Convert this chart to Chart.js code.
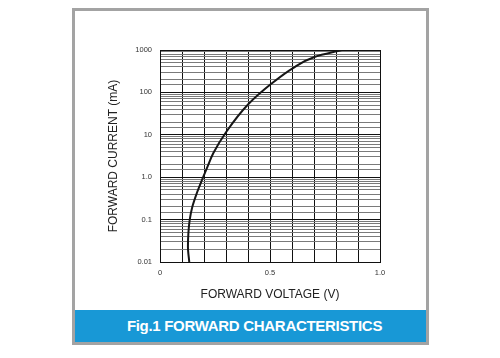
<!DOCTYPE html>
<html><head><meta charset="utf-8">
<script src="https://cdn.jsdelivr.net/npm/chart.js@4/dist/chart.umd.min.js"></script>
<style>
html,body{margin:0;padding:0;background:#fff;}
#wrap{position:relative;width:500px;height:358px;overflow:hidden;}
#frame{position:absolute;left:72px;top:8px;width:351px;height:331px;border:3px solid #a3a3a3;background:#fff;}
#cap{position:absolute;left:75px;top:310px;width:351px;height:32px;background:#1898d6;color:#fff;
 font:bold 15px "Liberation Sans",Arial,sans-serif;line-height:32px;text-align:center;text-indent:8px;letter-spacing:-0.3px;}
canvas{position:absolute;left:0;top:0;}
</style></head>
<body><div id="wrap"><div id="frame"></div><div id="cap">Fig.1 FORWARD CHARACTERISTICS</div>
<canvas id="c" width="500" height="358"></canvas></div>
<script>
const voltage = [0.133, 0.127, 0.129, 0.135, 0.147, 0.167, 0.191, 0.216, 0.242, 0.300, 0.401, 0.503, 0.603, 0.705, 0.826];
const current = [0.01, 0.023, 0.0475, 0.098, 0.2, 0.417, 0.859, 1.77, 3.66, 11.5, 52.4, 155, 370, 695, 1000];
const yTickLabels = {"1000":"1000","100":"100","10":"10","1":"1.0","0.1":"0.1","0.01":"0.01"};
const xTickLabels = {"0":"0","5":"0.5","10":"1.0"};
const xTitle = "FORWARD VOLTAGE (V)";
const yTitle = "FORWARD CURRENT (mA)";

const isDecade = v => Math.abs(Math.log10(v) - Math.round(Math.log10(v))) < 1e-6;
const decadeKey = v => String(Math.pow(10, Math.round(Math.log10(v))).toFixed(2)*1);

new Chart(document.getElementById('c'), {
  type: 'scatter',
  data: { datasets: [{
    data: voltage.map((v, i) => ({x: v, y: current[i]})),
    showLine: true, borderColor: '#161616', borderWidth: 2, pointRadius: 0,
    cubicInterpolationMode: 'monotone', fill: false
  }]},
  options: {
    indexAxis: 'y',
    responsive: false, animation: false, devicePixelRatio: 1,
    layout: { padding: { left: 106, right: 120, top: 50, bottom: 56 } },
    plugins: { legend: { display: false }, tooltip: { enabled: false } },
    scales: {
      x: {
        type: 'linear', min: 0, max: 1.0,
        afterFit: s => { s.height = 40; },
        grid: { color: '#111', lineWidth: 1, drawTicks: false },
        border: { color: '#111', width: 1 },
        ticks: { stepSize: 0.1, autoSkip: false, padding: 6, color: '#333',
          font: { family: 'Liberation Sans', size: 7.5 },
          callback: v => { const k = String(Math.round(v * 10)); return xTickLabels[k] !== undefined ? xTickLabels[k] : ''; } },
        title: { display: true, text: xTitle, color: '#222', padding: 0,
          font: { family: 'Liberation Sans', size: 12 } }
      },
      y: {
        type: 'logarithmic', min: 0.01, max: 1000,
        afterFit: s => { s.width = 54; },
        grid: { drawTicks: false,
          color: c => isDecade(c.tick.value) ? '#111' : '#7a7a7a',
          lineWidth: 1 },
        border: { color: '#111', width: 1 },
        ticks: { autoSkip: false, padding: 8, color: '#333',
          font: { family: 'Liberation Sans', size: 7.5 },
          callback: v => isDecade(v) ? (yTickLabels[decadeKey(v)] || '') : '' },
        title: { display: true, text: yTitle, color: '#222', padding: 0,
          font: { family: 'Liberation Sans', size: 12 } }
      }
    }
  }
});
</script></body></html>
